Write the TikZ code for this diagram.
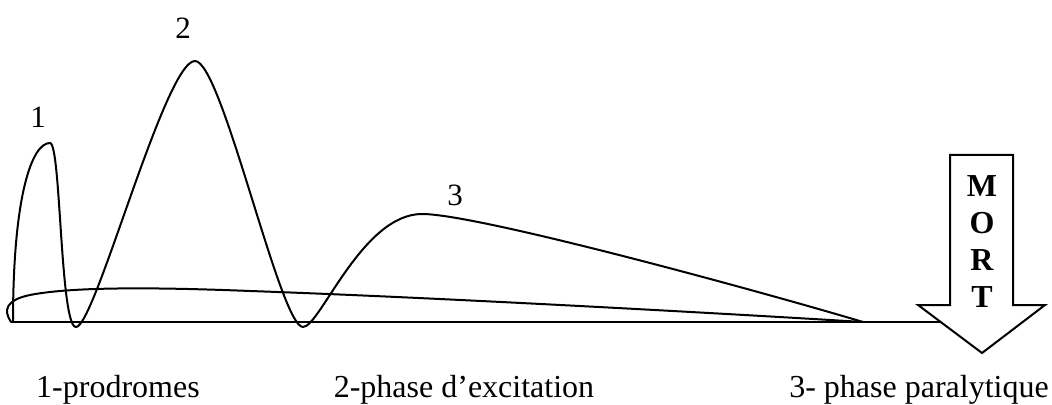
\documentclass[tikz,border=0pt]{standalone}
\usepackage{fontspec}
\setmainfont{Liberation Serif}
\usetikzlibrary{positioning}
\tikzset{
  curve/.style={line width=1pt,draw=black,line cap=round},
  baseln/.style={line width=1pt,draw=black},
  num/.style={font=\fontsize{15.5}{18}\selectfont,inner sep=0pt},
  phase/.style={font=\fontsize{16}{19}\selectfont,inner sep=0pt,anchor=base},
  mortl/.style={font=\bfseries\fontsize{16}{19}\selectfont,inner sep=0pt,anchor=base},
  bigarrow/.style={draw=black,fill=white,line width=1pt,line join=miter},
}

\begin{document}
\begin{tikzpicture}[x=0.5pt,y=-0.5pt]
  \useasboundingbox (0,0) rectangle (1052,405);
  \coordinate (o) at (11,322);
  \coordinate (s) at (13,322);
  \coordinate (p1) at (50,143);
  \coordinate (m1) at (76,327);
  \coordinate (p2) at (195,61);
  \coordinate (m2) at (303,327);
  \coordinate (p3) at (422,214);
  \coordinate (fin) at (863,322);
  % ligne de base
  \draw[baseln] (o) -- (960,322);
  % courbe plate
  \draw[curve] (o) .. controls (3,310) and (6,300) .. (30,295)
    .. controls (70,287) and (150,287) .. (250,291)
    .. controls (450,298) and (750,315) .. (fin);
  % les trois vagues
  \draw[curve] (s) .. controls (13,195) and (32,143) .. (p1)
    .. controls (61,143) and (60,327) .. (m1)
    .. controls (95,327) and (165,61) .. (p2)
    .. controls (222,61) and (280,327) .. (m2)
    .. controls (320,327) and (362,214) .. (p3)
    .. controls (480,214) and (780,297) .. (fin);
  % fleche MORT
  \draw[bigarrow] (950,155) -- (1013,155) -- (1013,305) -- (1045,305)
    -- (982,353) -- (918,305) -- (950,305) -- cycle;
  \foreach \l [count=\k] in {M,O,R,T}
    \node[mortl] (mort-\k) at (982,{197+36.7*(\k-1)}) {\l};
  \node[num] (n1) at (38,117) {1};
  \node[num] (n2) at (183,28) {2};
  \node[num] (n3) at (455,195) {3};
  \node[phase] (ph1) at (118,397) {1-prodromes};
  \node[phase] (ph2) at (464,397) {2-phase d’excitation};
  \node[phase] (ph3) at (919,397) {3- phase paralytique};
\end{tikzpicture}
\end{document}
